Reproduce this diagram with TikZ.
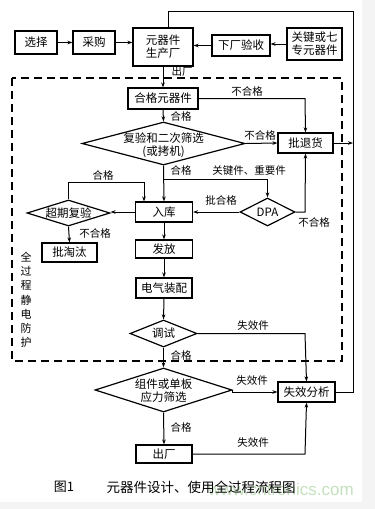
\documentclass[tikz,border=0pt]{standalone}
\usepackage{fontspec}
\setmainfont{Noto Sans CJK SC}
\newfontfamily\wmfont{Liberation Sans}
\usetikzlibrary{shapes.geometric,arrows.meta}
\definecolor{wmgreen}{RGB}{196,224,188}
\definecolor{bggray}{RGB}{244,244,244}
\tikzset{
  box/.style={draw, line width=1.2pt, inner sep=0pt, font=\fontsize{11.5}{13}\selectfont, align=center},
  dia/.style={draw, diamond, line width=1.2pt, inner sep=0pt},
  dtext/.style={font=\fontsize{11.5}{13}\selectfont, align=center},
  lab/.style={font=\fontsize{10.5}{12}\selectfont, inner sep=1pt},
  conn/.style={line width=1pt},
  arr/.style={conn, -{Stealth[length=5pt,width=3.6pt]}},
}
\begin{document}
\begin{tikzpicture}[x=1pt,y=-1pt]
\useasboundingbox (0,0) rectangle (375,509);
\fill[bggray] (362,0) rectangle (375,509);
\fill[bggray] (0,502) rectangle (375,509);

% watermark
\node[font=\wmfont\fontsize{17}{17}\selectfont, text=wmgreen] (wm) at (281,489) {www.cntronics.com};

% top row
\node[box, minimum width=42pt, minimum height=23pt] (xz) at (36,42.5) {选择};
\node[box, minimum width=42pt, minimum height=23pt] (cg) at (94,42.5) {采购};
\node[box, minimum width=60pt, minimum height=38pt] (fac) at (163,47) {元器件\\生产厂};
\node[box, minimum width=58pt, minimum height=21pt] (xc) at (241,45.5) {下厂验收};
\node[box, minimum width=55pt, minimum height=32pt] (gj) at (314.5,44) {关键或七\\专元器件};

% dashed frame
\draw[line width=1.2pt, dash pattern=on 8pt off 5pt] (12,78) rectangle (342,361);

\node[box, minimum width=70pt, minimum height=21pt] (hg) at (163,98.5) {合格元器件};
\node[dia, minimum width=163pt, minimum height=43pt] (fy) at (163.5,143.5) {};
\node[dtext] (fyt) at (163.5,145) {复验和二次筛选\\(或拷机)};
\node[box, minimum width=55pt, minimum height=20pt] (pt) at (305.5,143) {批退货};
\node[box, minimum width=57pt, minimum height=20pt] (rk) at (164,212) {入库};
\node[dia, minimum width=55pt, minimum height=28pt] (dpa) at (267.5,212) {};
\node[dtext] (dpat) at (267.5,212) {DPA};
\node[dia, minimum width=83pt, minimum height=26pt] (cq) at (68.5,213) {};
\node[dtext] (cqt) at (68.5,213) {超期复验};
\node[box, minimum width=55pt, minimum height=19pt] (ptt) at (69.5,252.5) {批淘汰};
\node[box, minimum width=57pt, minimum height=18pt] (ff) at (164,249) {发放};
\node[box, minimum width=56pt, minimum height=20pt] (dq) at (164,288) {电气装配};
\node[dia, minimum width=67pt, minimum height=27pt] (ts) at (163.5,333.5) {};
\node[dtext] (tst) at (163.5,333.5) {调试};
\node[dia, minimum width=137pt, minimum height=44pt] (zj) at (163.5,390) {};
\node[dtext] (zjt) at (163.5,391) {组件或单板\\应力筛选};
\node[box, minimum width=57pt, minimum height=20pt] (sx) at (306.5,392) {失效分析};
\node[box, minimum width=56pt, minimum height=18pt] (cc) at (164,454) {出厂};

% vertical text
\node[font=\fontsize{11}{14.2}\selectfont, align=center, inner sep=0pt, anchor=north] (vt) at (26,252) {全\\过\\程\\静\\电\\防\\护};

% coordinates
\coordinate (c1) at (305,98.5);
\coordinate (br) at (163.5,179);
\coordinate (br2) at (267.5,179);
\coordinate (d1) at (305,212);
\coordinate (q1) at (68.5,182);
\coordinate (q2) at (144,182);
\coordinate (t1) at (305,333.5);
\coordinate (b1) at (305,454);
\coordinate (r1) at (353,392);
\coordinate (r2) at (353,11);
\coordinate (r3) at (168,11);
\coordinate (pr) at (353,143);

% connectors
\draw[arr] (xz.east) -- (xz.east -| cg.west);
\draw[arr] (cg.east) -- (cg.east -| fac.west);
\draw[arr] (xc.west) -- (xc.west -| fac.east);
\draw[arr] (gj.west) -- (gj.west -| xc.east);
\draw[arr] (fac.south) -- (hg.north);
\node[lab] (l0) at (182,72) {出厂};
\draw[arr] (hg.east) -- (c1) -- (pt.north);
\node[lab] (l1) at (247,91.5) {不合格};
\draw[arr] (hg.south) -- (fy.north);
\node[lab] (l1b) at (181,116) {合格};
\draw[arr] (fy.east) -- (pt.west);
\node[lab] (l2) at (260,135) {不合格};
\draw[arr] (fy.south) -- (rk.north);
\node[lab] (l3) at (181,170) {合格};
\draw[arr] (br) -- (br2) -- (dpa.north);
\node[lab] (l4) at (249,171) {关键件、重要件};
\draw[arr] (dpa.west) -- (dpa.west -| rk.east);
\node[lab] (l5) at (221,200) {批合格};
\draw[arr] (dpa.east) -- (d1) -- (pt.south);
\node[lab] (l6) at (314,222.5) {不合格};
\draw[arr] (rk.west) -- (rk.west -| cq.east);
\draw[arr] (cq.north) -- (q1) -- (q2) -- (q2 |- rk.north);
\node[lab] (l7) at (103,175) {合格};
\draw[arr] (cq.south) -- (ptt.north);
\node[lab] (l8) at (95,233) {不合格};
\draw[arr] (rk.south) -- (ff.north);
\draw[arr] (ff.south) -- (dq.north);
\draw[arr] (dq.south) -- (ts.north);
\draw[arr] (ts.east) -- (t1) -- (sx.north);
\node[lab] (l9) at (253,325.5) {失效件};
\draw[arr] (ts.south) -- (zj.north);
\node[lab] (l10) at (181,355) {合格};
\draw[arr] (zj.east) -- (zj.east |- sx.west) -- (sx.west);
\node[lab] (l11) at (252,381) {失效件};
\draw[arr] (zj.south) -- (cc.north);
\node[lab] (l12) at (181,427) {合格};
\draw[arr] (cc.east) -- (b1) -- (sx.south);
\node[lab] (l13) at (253,443) {失效件};
\draw[conn] (sx.east) -- (r1) -- (r2) -- (r3) -- (r3 |- fac.north);
\draw[arr] (pt.east) -- (pr);

% caption
\node[font=\fontsize{13}{14}\selectfont, inner sep=0pt] (cap1) at (64,487) {图1};
\node[font=\fontsize{13.5}{14}\selectfont, inner sep=0pt] (cap2) at (201,487) {元器件设计、使用全过程流程图};
\end{tikzpicture}
\end{document}
